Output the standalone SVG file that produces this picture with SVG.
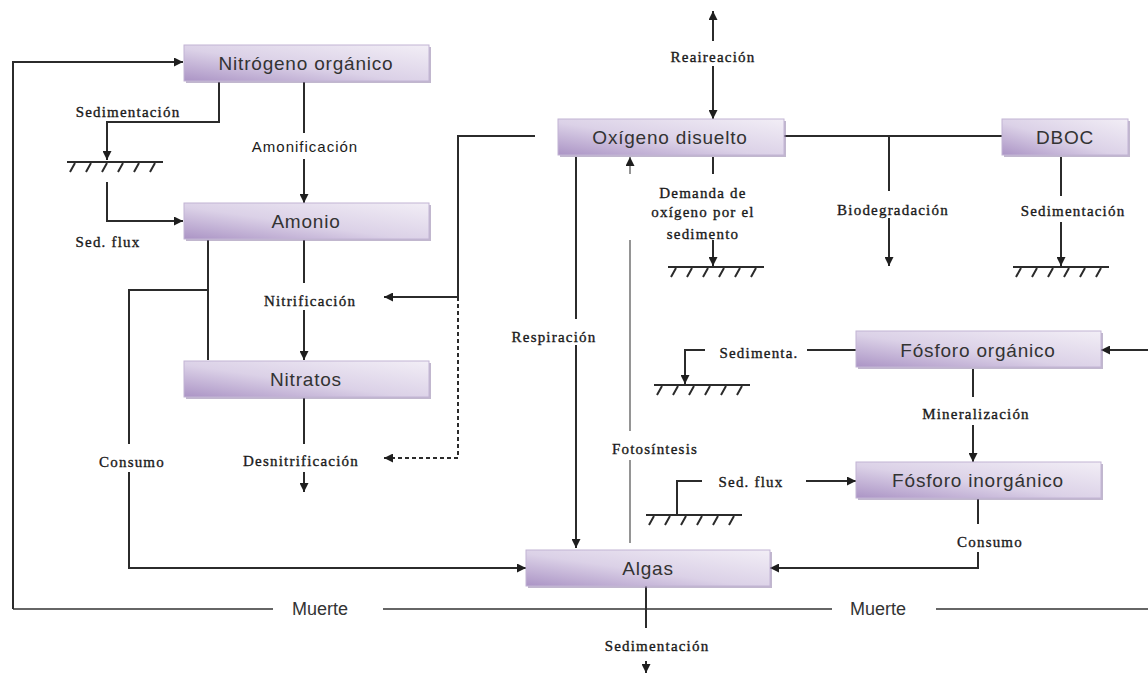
<svg xmlns="http://www.w3.org/2000/svg" xmlns:xlink="http://www.w3.org/1999/xlink" width="1148" height="675" viewBox="0 0 1148 675">
<style>
.ln{fill:none;stroke:#2b2b2b;stroke-width:2}
.gr{fill:none;stroke:#666;stroke-width:2}
.ph{fill:none;stroke:#7a7a7a;stroke-width:1.6}
.bg{fill:#fff}
.lb{font-family:"Liberation Serif","Times New Roman",serif;font-size:15px;letter-spacing:1.2px;fill:#1a1a1a;stroke:#1a1a1a;stroke-width:0.35;text-anchor:middle}
.ls{font-family:"Liberation Sans",Arial,sans-serif;font-size:15px;letter-spacing:1px;fill:#1a1a1a;text-anchor:middle}
.mu{font-family:"Liberation Sans",Arial,sans-serif;font-size:18px;fill:#333;text-anchor:middle}
.box{fill:url(#g);stroke:#c2b4d4;stroke-width:1}
.sh{fill:#8e7ca6;opacity:0.55}
.bt{font-family:"Liberation Sans",Arial,sans-serif;font-size:19px;letter-spacing:0.8px;fill:#333;text-anchor:middle}
</style>
<defs>
<linearGradient id="g" x1="0" y1="1" x2="1" y2="0">
<stop offset="0" stop-color="#ab94c5"/>
<stop offset="0.45" stop-color="#dbd1e7"/>
<stop offset="1" stop-color="#f2eef6"/>
</linearGradient>
<marker id="ah" viewBox="0 0 10 10" refX="10" refY="5" markerWidth="10" markerHeight="9" markerUnits="userSpaceOnUse" orient="auto-start-reverse">
<path d="M0,0 L10,5 L0,10 z" fill="#1e1e1e"/>
</marker>
<g id="gnd">
<path d="M0,0 H96 M3,10 L8,1 M19,10 L24,1 M35,10 L40,1 M51,10 L56,1 M67,10 L72,1 M83,10 L88,1" fill="none" stroke="#2b2b2b" stroke-width="2"/>
</g>
</defs>
<rect width="1148" height="675" fill="#fff"/>

<g id="connectors">
<path class="gr" d="M13,609 H1148"/>
<path class="ln" d="M13,609 V62 H183" marker-end="url(#ah)"/>
<path class="ln" d="M219,82 V122 H107 V160" marker-end="url(#ah)"/>
<path class="ln" d="M107,182 V221 H183" marker-end="url(#ah)"/>
<path class="ln" d="M304,82 V203" marker-end="url(#ah)"/>
<path class="ln" d="M304,240 V360" marker-end="url(#ah)"/>
<path class="ln" d="M304,398 V492" marker-end="url(#ah)"/>
<path class="ln" d="M208,240 V360 M208,290 H129 V568 H526" marker-end="url(#ah)"/>
<path class="ln" d="M535,136 H458 V297 H384" marker-end="url(#ah)"/>
<path class="ln" d="M458,297 V458 H384" stroke-dasharray="4,3" marker-end="url(#ah)"/>
<path class="ln" d="M713,11 V119" marker-start="url(#ah)" marker-end="url(#ah)"/>
<path class="ln" d="M784,136 H1002"/>
<path class="ln" d="M889,136 V266" marker-end="url(#ah)"/>
<path class="ln" d="M1061,157 V266" marker-end="url(#ah)"/>
<use xlink:href="#gnd" x="1013" y="267"/>
<path class="ln" d="M713,157 V266" marker-end="url(#ah)"/>
<use xlink:href="#gnd" x="668" y="267"/>
<path class="ln" d="M576,157 V548" marker-end="url(#ah)"/>
<path class="ph" d="M630,543 V157" marker-end="url(#ah)"/>
<path class="ln" d="M856,350 H685 V384" marker-end="url(#ah)"/>
<use xlink:href="#gnd" x="654" y="385"/>
<path class="ln" d="M1148,350 H1101" marker-end="url(#ah)"/>
<path class="ln" d="M973,369 V462" marker-end="url(#ah)"/>
<path class="ln" d="M677,515 V481 H856" marker-end="url(#ah)"/>
<use xlink:href="#gnd" x="646" y="515"/>
<path class="ln" d="M978,499 V568 H770" marker-end="url(#ah)"/>
<path class="ln" d="M646,586 V673" marker-end="url(#ah)"/>
<use xlink:href="#gnd" x="67" y="162"/>
</g>

<g id="labels">
<rect class="bg" x="650" y="41" width="126" height="25"/>
<text class="lb" x="713" y="62">Reaireación</text>
<rect class="bg" x="62" y="99" width="124" height="20"/>
<text class="lb" x="128" y="117">Sedimentación</text>
<rect class="bg" x="228" y="133" width="152" height="26"/>
<text class="ls" x="305" y="152">Amonificación</text>
<rect class="bg" x="60" y="230" width="98" height="22"/>
<text class="lb" x="108" y="247">Sed. flux</text>
<rect class="bg" x="240" y="283" width="143" height="27"/>
<text class="lb" x="310" y="306">Nitrificación</text>
<rect class="bg" x="222" y="444" width="160" height="28"/>
<text class="lb" x="301" y="466">Desnitrificación</text>
<rect class="bg" x="57" y="444" width="154" height="28"/>
<text class="lb" x="132" y="467">Consumo</text>
<rect class="bg" x="620" y="174" width="164" height="66"/>
<text class="lb" x="703" y="198">Demanda de</text>
<text class="lb" x="703" y="217">oxígeno por el</text>
<text class="lb" x="703" y="239">sedimento</text>
<rect class="bg" x="808" y="191" width="172" height="27"/>
<text class="lb" x="893" y="215">Biodegradación</text>
<rect class="bg" x="1002" y="196" width="138" height="26"/>
<text class="lb" x="1073" y="216">Sedimentación</text>
<rect class="bg" x="486" y="319" width="134" height="26"/>
<text class="lb" x="554" y="342">Respiración</text>
<rect class="bg" x="586" y="431" width="142" height="29"/>
<text class="lb" x="655" y="454">Fotosíntesis</text>
<rect class="bg" x="705" y="336" width="102" height="26"/>
<text class="lb" x="759" y="358">Sedimenta.</text>
<rect class="bg" x="902" y="397" width="148" height="28"/>
<text class="lb" x="976" y="419">Mineralización</text>
<rect class="bg" x="702" y="467" width="104" height="28"/>
<text class="lb" x="751" y="487">Sed. flux</text>
<rect class="bg" x="916" y="524" width="152" height="28"/>
<text class="lb" x="990" y="547">Consumo</text>
<rect class="bg" x="580" y="628" width="160" height="33"/>
<text class="lb" x="657" y="651">Sedimentación</text>
<rect class="bg" x="273" y="596" width="110" height="26"/>
<text class="mu" x="320" y="615">Muerte</text>
<rect class="bg" x="832" y="596" width="104" height="26"/>
<text class="mu" x="878" y="615">Muerte</text>
</g>

<g id="n-nitrogeno">
<rect class="sh" x="186" y="47" width="245" height="36"/>
<rect class="box" x="184" y="45" width="245" height="36"/>
<text class="bt" x="306" y="70">Nitrógeno orgánico</text>
</g>
<g id="n-amonio">
<rect class="sh" x="186" y="205" width="245" height="36"/>
<rect class="box" x="184" y="203" width="245" height="36"/>
<text class="bt" x="306" y="228">Amonio</text>
</g>
<g id="n-nitratos">
<rect class="sh" x="186" y="363" width="245" height="36"/>
<rect class="box" x="184" y="361" width="245" height="36"/>
<text class="bt" x="306" y="386">Nitratos</text>
</g>
<g id="n-oxigeno">
<rect class="sh" x="560" y="121" width="226" height="36"/>
<rect class="box" x="558" y="119" width="226" height="36"/>
<text class="bt" x="670" y="144">Oxígeno disuelto</text>
</g>
<g id="n-dboc">
<rect class="sh" x="1004" y="121" width="126" height="36"/>
<rect class="box" x="1002" y="119" width="126" height="36"/>
<text class="bt" x="1065" y="144">DBOC</text>
</g>
<g id="n-fosforo-org">
<rect class="sh" x="858" y="333" width="245" height="36"/>
<rect class="box" x="856" y="331" width="245" height="36"/>
<text class="bt" x="978" y="357">Fósforo orgánico</text>
</g>
<g id="n-fosforo-inorg">
<rect class="sh" x="858" y="464" width="245" height="36"/>
<rect class="box" x="856" y="462" width="245" height="36"/>
<text class="bt" x="978" y="487">Fósforo inorgánico</text>
</g>
<g id="n-algas">
<rect class="sh" x="528" y="552" width="244" height="36"/>
<rect class="box" x="526" y="550" width="244" height="36"/>
<text class="bt" x="648" y="575">Algas</text>
</g>
</svg>
